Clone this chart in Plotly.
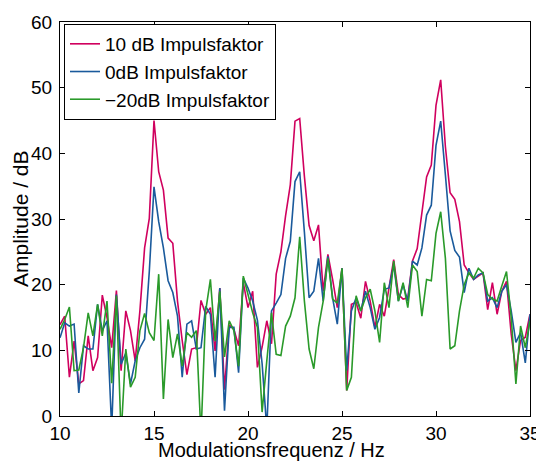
import plotly.graph_objects as go

freq = [10 + 0.25 * i for i in range(101)]

imp_10db = [13.9, 15.2, 5.9, 11.4, 4.9, 5.4, 12.2, 6.9, 8.9, 18.4,
            15.0, 10.4, 19.1, 6.9, 16.0, 13.0, 8.4, 16.0, 25.6, 30.1,
            45.0, 37.2, 34.4, 27.1, 26.3, 17.5, 11.5, 6.3, 10.2, 10.4,
            17.6, 15.5, 16.5, 9.9, 19.5, 4.0, 13.9, 13.2, 10.7, 20.3,
            16.5, 19.0, 7.4, 10.5, 14.5, 11.0, 21.6, 25.0, 30.5, 35.2,
            44.9, 45.3, 36.5, 29.0, 26.7, 29.1, 19.0, 24.6, 20.8, 16.5,
            22.5, 3.9, 17.0, 17.3, 14.9, 20.5, 17.5, 13.5, 17.0, 15.2,
            19.5, 23.8, 18.5, 17.8, 18.0, 23.6, 25.5, 31.0, 36.4, 38.2,
            47.3, 51.2, 41.0, 34.0, 33.0, 29.6, 23.0, 21.8, 20.8, 21.3,
            21.8, 16.2, 20.3, 15.5, 19.0, 20.5, 12.5, 6.9, 11.5, 12.0,
            15.5]

imp_0db = [11.9, 14.2, 13.7, 14.0, 3.5, 10.7, 10.2, 10.2, 17.0, 13.0,
           14.5, -2.0, 18.5, 7.9, 9.6, 4.9, 8.4, 10.4, 11.7, 22.0,
           34.9, 29.6, 25.6, 20.6, 18.8, 15.2, 5.9, 14.0, 14.5, 10.2,
           10.4, 16.7, 15.5, 5.9, 19.5, 0.8, 13.5, 13.5, 6.6, 21.0,
           19.5, 17.5, 14.6, 8.0, -2.0, 16.0, 17.2, 18.5, 24.0, 26.6,
           35.7, 37.2, 28.0, 18.0, 19.0, 24.0, 17.5, 24.3, 18.0, 14.0,
           22.5, 6.9, 16.0, 18.0, 16.0, 19.0, 16.5, 13.2, 15.0, 19.3,
           19.5, 23.0, 17.5, 20.0, 17.5, 23.6, 23.0, 25.6, 30.6, 32.1,
           41.2, 44.9, 36.7, 28.2, 25.2, 24.2, 18.8, 22.5, 20.8, 21.5,
           21.8, 17.5, 18.0, 16.5, 19.0, 20.0, 16.0, 11.2, 12.7, 8.1,
           15.5]

imp_m20db = [13.2, 14.7, 16.6, 6.9, 7.0, 10.4, 15.7, 12.2, 17.0, 12.2,
             17.5, 5.0, 18.3, -3.0, 10.2, 4.4, 5.9, 13.0, 15.6, 12.7,
             11.5, 21.6, 2.6, 14.7, 8.9, 12.5, 7.6, 12.7, 12.0, 13.0,
             -3.0, 16.0, 20.8, 11.4, 19.0, 9.0, 14.5, 13.0, 7.6, 21.3,
             18.5, 15.7, 13.5, 0.6, 8.4, 15.7, 9.4, 9.2, 13.7, 15.2,
             18.0, 27.3, 17.5, 10.2, 7.2, 13.5, 17.5, 24.0, 17.8, 17.2,
             22.5, 3.9, 5.9, 18.3, 16.0, 18.0, 19.3, 16.0, 11.2, 20.3,
             16.5, 23.6, 17.5, 20.3, 16.5, 23.0, 22.0, 15.2, 20.8, 20.6,
             27.8, 31.1, 24.0, 10.2, 10.7, 16.0, 20.0, 21.8, 21.0, 22.5,
             21.8, 18.5, 17.8, 17.5, 19.8, 22.0, 15.0, 4.9, 13.7, 10.4,
             14.5]

names = ["10 dB Impulsfaktor", "0dB Impulsfaktor", "\u221220dB Impulsfaktor"]
colors = ["#d0005e", "#1a5a9c", "#2a9a2a"]
series = [imp_10db, imp_0db, imp_m20db]

fig = go.Figure()
for name, col, vals in zip(names, colors, series):
    fig.add_trace(go.Scatter(x=freq, y=vals, mode="lines", name=name,
                             line=dict(color=col, width=1.6)))

font_family = "Liberation Sans, Arial, Helvetica, sans-serif"
axis_common = dict(showline=True, linecolor="black", linewidth=1, mirror="ticks",
                   ticks="inside", ticklen=5, tickcolor="black", showgrid=False,
                   zeroline=False, automargin=False,
                   tickfont=dict(size=19, color="black", family=font_family))

# page has an 8px body margin; figure is sized/offset to compensate
fig.update_layout(
    width=536, height=454,
    margin=dict(l=52, r=14, t=14, b=46),
    paper_bgcolor="white", plot_bgcolor="white",
    font=dict(family=font_family, size=19, color="black"),
    xaxis=dict(range=[10, 35], tickvals=[10, 15, 20, 25, 30, 35], **axis_common),
    yaxis=dict(range=[0, 60], tickvals=[0, 10, 20, 30, 40, 50, 60],
               ticklabelstandoff=3, **axis_common),
    legend=dict(x=0.0085, y=0.995, xanchor="left", yanchor="top",
                bgcolor="white", bordercolor="black", borderwidth=1,
                font=dict(size=19, family=font_family), tracegroupgap=0,
                itemwidth=30),
    showlegend=True,
    annotations=[
        dict(text="Modulationsfrequenz / Hz", xref="paper", yref="paper",
             x=0.451, y=-0.087, xanchor="center", yanchor="middle",
             showarrow=False, font=dict(size=20)),
        dict(text="Amplitude / dB", xref="paper", yref="paper",
             x=-0.085, y=0.5, xanchor="center", yanchor="middle",
             textangle=-90, showarrow=False, font=dict(size=21)),
    ],
)

fig.write_html("out.html")
